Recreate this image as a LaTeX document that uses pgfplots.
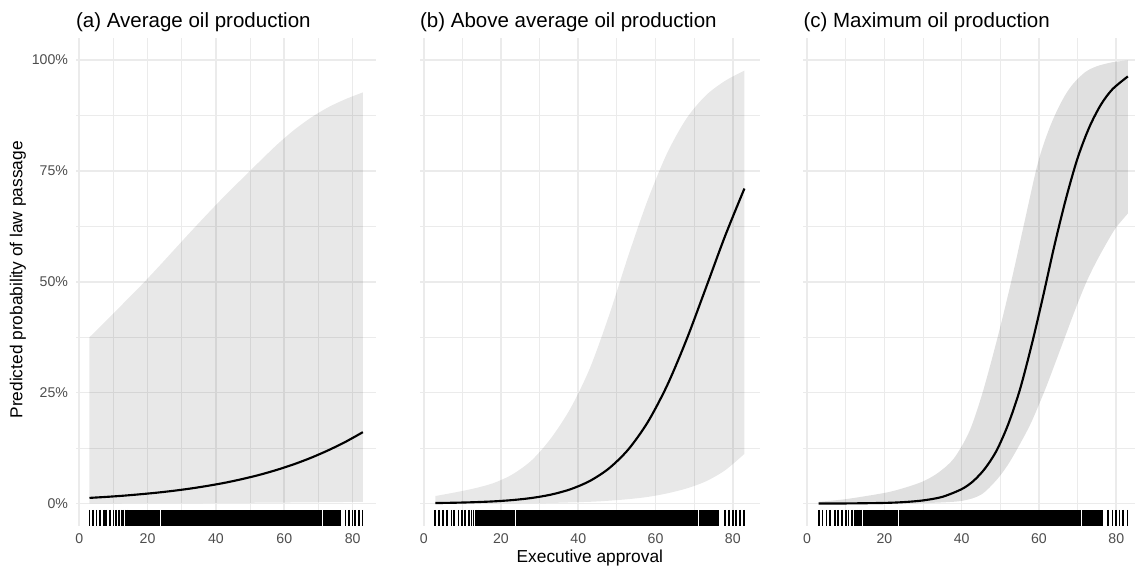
\documentclass[border=0pt]{standalone}
\usepackage{pgfplots}
\pgfplotsset{compat=1.18}
\usepgfplotslibrary{fillbetween}
\usepackage{pgfplotstable}
\usepackage{fontspec}
\setmainfont{Liberation Sans}
\definecolor{gridc}{HTML}{EBEBEB}
\definecolor{grey30}{HTML}{4D4D4D}
\newcommand{\tickfont}{\fontsize{10.6}{12}\selectfont}
\newcommand{\labfont}{\fontsize{13}{15}\selectfont}
\newcommand{\titfont}{\fontsize{15.4}{18}\selectfont}

\pgfplotstableread{
x y
3.0 -3.2
4.0 -3.2
5.05 -3.2
6.0 -3.2
7.2 -3.2
7.9 -3.2
9.0 -3.2
10.0 -3.2
10.7 -3.2
11.7 -3.2
12.4 -3.2
12.9 -3.2
13.5 -3.2
14.0 -3.2
77.9 -3.2
79.0 -3.2
80.0 -3.2
80.8 -3.2
81.8 -3.2
82.9 -3.2
}\rugtable

\pgfplotsset{
  panel/.style={
    scale only axis, height=366.2pt, anchor=south west,
    ymin=-5, ymax=105, xmin=-1,
    axis line style={draw=none},
    tick style={draw=none}, major tick length=0pt, minor tick length=0pt,
    xtick={0,20,40,60,80}, xticklabels={0,20,40,60,80},
    minor xtick={10,30,50,70},
    ytick={0,25,50,75,100}, minor ytick={12.5,37.5,62.5,87.5},
    grid=both,
    major grid style={color=gridc, line width=1.2pt},
    minor grid style={color=gridc, line width=0.6pt},
    xticklabel style={anchor=north, inner sep=0pt, yshift=-5.85pt, font=\tickfont, text=grey30},
    yticklabel style={anchor=east, inner sep=0pt, xshift=-5.7pt, font=\tickfont, text=grey30},
    every axis title/.style={at={(axis description cs:0,1)}, anchor=base west, yshift=8.1pt, inner sep=0pt, font=\titfont},
    every axis y label/.style={at={(axis description cs:-0.193,0.504)}, rotate=90, anchor=center, font=\labfont},
    every axis x label/.style={at={(axis description cs:0.5,-0.0748)}, anchor=base, font=\labfont},
  },
  rugmarks/.style={only marks, mark=|, mark size=6pt, mark options={line width=1.3pt, black}},
  fit/.style={black, line width=1.6pt, smooth},
}
\newcommand{\rug}{%
  \addplot[rugmarks] table[x=x,y=y] {\rugtable};
  \addplot[black, line width=12pt] coordinates {(14.4,-3.2) (76.5,-3.2)};
  \addplot[only marks, mark=|, mark size=6pt, mark options={white, line width=0.5pt}] coordinates {(23.7,-3.2) (71.0,-3.2)};
}

\begin{document}
\begin{tikzpicture}

% ---------------- (a)
\begin{axis}[panel, at={(56.9pt,31.4pt)}, width=225.2pt, xmax=86.8,
  title={(a) Average oil production},
  yticklabels={0\%,25\%,50\%,75\%,100\%},
  ylabel={Predicted probability of law passage}]
\addplot[name path=upa, draw=none, smooth] coordinates {
 (3,37.5) (8,41.3) (13,45.2) (18,49.1) (23,53.2) (28,57.4) (33,61.6) (38,65.7) (43,69.7)
 (48,73.5) (53,77.3) (58,81.0) (63,84.3) (68,87.1) (73,89.4) (78,91.2) (83,92.7)};
\addplot[name path=loa, draw=none, smooth] coordinates {
 (3,0.05) (23,0.1) (43,0.15) (63,0.25) (83,0.4)};
\addplot[fill=black, fill opacity=0.09, draw=none] fill between[of=upa and loa];
\addplot[fit] coordinates {
 (3,1.28) (8,1.51) (13,1.78) (18,2.11) (23,2.48) (28,2.92) (33,3.44) (38,4.05) (43,4.75)
 (48,5.58) (53,6.53) (58,7.64) (63,8.91) (68,10.38) (73,12.06) (78,13.95) (83,16.10)};
\rug
\end{axis}

% ---------------- (b)
\begin{axis}[panel, at={(315.1pt,31.4pt)}, width=255.2pt, xmax=87,
  title={(b) Above average oil production},
  yticklabels={},
  xlabel={Executive approval}]
\addplot[name path=upb, draw=none, smooth] coordinates {
 (3,1.7) (8,2.5) (13,3.4) (18,4.6) (23,6.6) (28,9.8) (33,14.8) (38,21.5) (43,30.5)
 (48,42.5) (53,56.0) (58,68.5) (63,79.0) (68,86.8) (73,92.0) (78,95.3) (83,97.6)};
\addplot[name path=lob, draw=none, smooth] coordinates {
 (3,0.0) (13,0.02) (23,0.06) (33,0.15) (43,0.4) (48,0.65) (53,1.0) (58,1.5) (63,2.3)
 (68,3.4) (73,5.0) (78,7.5) (83,11.2)};
\addplot[fill=black, fill opacity=0.09, draw=none] fill between[of=upb and lob];
\addplot[fit] coordinates {
 (3,0.12) (8,0.19) (13,0.31) (18,0.49) (23,0.79) (28,1.27) (33,2.03) (38,3.23) (43,5.10)
 (48,7.97) (53,12.25) (58,18.38) (63,26.63) (68,36.91) (73,48.54) (78,60.32) (83,71.02)};
\rug
\end{axis}

% ---------------- (c) (cropped at the right edge as in the reference)
\begin{axis}[panel, at={(602.85pt,31.4pt)}, width=249.15pt, xmax=84.9,
  title={(c) Maximum oil production},
  yticklabels={}]
\addplot[name path=upc, draw=none, smooth] coordinates {
 (3,0.4) (10,1.0) (20,2.4) (25,3.5) (30,5.0) (34,7.0) (38,10.2) (42,16.3) (45.4,25)
 (49.3,37.5) (52.8,50) (56,62.5) (59.2,75) (61,80.5) (63,85.3) (65,89.2) (67,92.4)
 (69,94.8) (72,97.3) (75,98.6) (79,99.5) (83,99.9)};
\addplot[name path=loc, draw=none, smooth] coordinates {
 (3,0) (25,0.05) (32,0.15) (40,0.6) (45,2.0) (49,5.3) (52,8.8) (55,13.3) (58,18.3)
 (61.5,25.5) (64,31.2) (66.7,37.5) (69.5,44) (72.3,50) (75,54.8) (78,59.5) (80,62.3) (83,65.4)};
\addplot[fill=black, fill opacity=0.12, draw=none] fill between[of=upc and loc];
\addplot[fit] coordinates {
 (3,0.01) (10,0.03) (20,0.15) (25,0.33) (30,0.71) (35,1.52) (40,3.26) (43,5.07) (46,7.87)
 (49,11.9) (52,17.8) (55,25.5) (58,35.4) (61,46.5) (64,58.2) (67,68.8) (70,77.9)
 (73,84.8) (76,89.9) (79,93.4) (83,96.3)};
\rug
\end{axis}
\path (0,0) rectangle (852pt,426pt);
\end{tikzpicture}
\end{document}
